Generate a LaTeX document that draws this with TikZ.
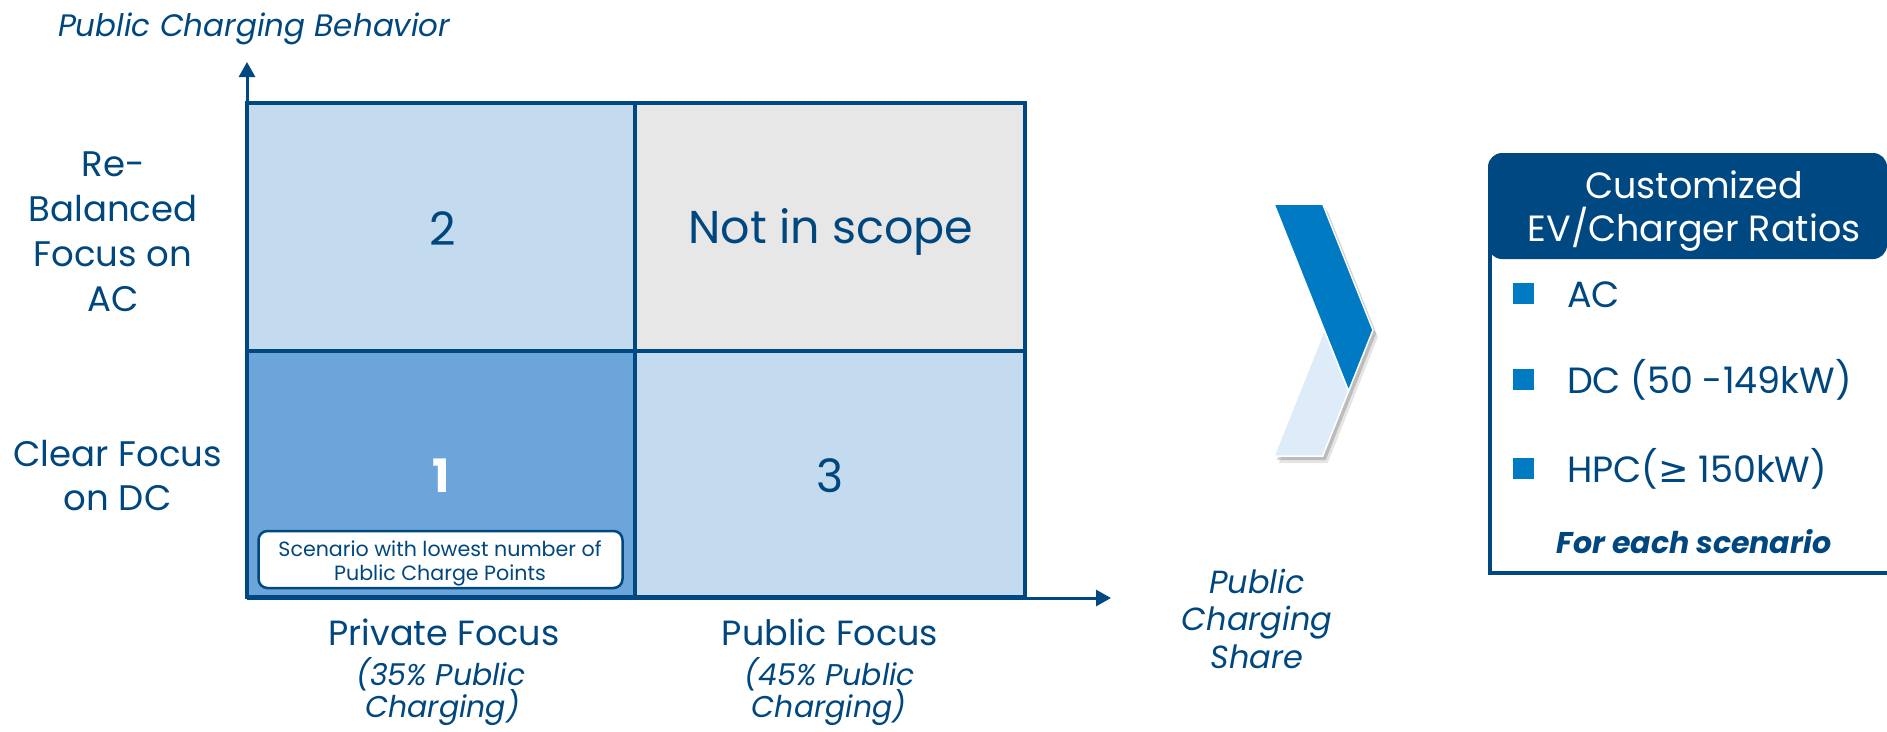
\documentclass[tikz,border=0pt]{standalone}
\usepackage{fontspec}
\setmainfont{Poppins}
\newfontfamily\symbolfont{DejaVu Sans}
\usetikzlibrary{arrows.meta}

\definecolor{navy}{RGB}{0,72,130}
\definecolor{txtblue}{RGB}{0,71,127}
\definecolor{cellpale}{RGB}{195,218,239}
\definecolor{cellmid}{RGB}{108,165,218}
\definecolor{cellgray}{RGB}{231,231,231}
\definecolor{chevdark}{RGB}{0,122,194}
\definecolor{chevlight}{RGB}{222,235,248}

\newcommand\fsz[2]{\fontsize{#1}{#2}\selectfont}

\begin{document}
\begin{tikzpicture}[x=1pt,y=-1pt,
  txt/.style={inner sep=0pt, outer sep=0pt, anchor=base, text=txtblue},
  cellbox/.style={draw=navy, line width=4.5pt, inner sep=0pt, outer sep=0pt},
  axisline/.style={draw=navy, line width=3pt, -{Triangle[length=15pt,width=16pt]}},
  bullet/.style={fill=chevdark, inner sep=0pt, minimum width=21pt, minimum height=21pt},
  rowlab/.style={txt, font=\fsz{35.5}{45}},
  collab/.style={txt, font=\fsz{35}{40}},
  colsub/.style={txt, font=\fsz{30}{35}\itshape},
  digit/.style={txt, font=\fsz{46}{50}},
  listitem/.style={txt, anchor=base west, font=\fsz{36.5}{44}},
]
\useasboundingbox (0,0) rectangle (1887,731);

% ---------- axes ----------
\coordinate (origin) at (247,598);
\coordinate (ytip) at (247,62);
\coordinate (xtip) at (1111,598);
\draw[axisline] (origin) -- (ytip);
\draw[axisline] (origin) -- (xtip);

% ---------- 2x2 scenario grid ----------
\node[cellbox, fill=cellpale, minimum width=388pt, minimum height=248pt] (c2) at (441,227) {};
\node[cellbox, fill=cellgray, minimum width=390pt, minimum height=248pt] (cx) at (830,227) {};
\node[cellbox, fill=cellmid,  minimum width=388pt, minimum height=246pt] (c1) at (441,474) {};
\node[cellbox, fill=cellpale, minimum width=390pt, minimum height=246pt] (c3) at (830,474) {};

\node[digit] (n2) at (443,245) {2};
\node[digit] (nx) at (831,243.3) {Not in scope};
\node[digit, text=white, font=\fsz{46}{50}\bfseries] (n1) at (441,492) {1};
\node[digit] (n3) at (830,492) {3};

% callout in scenario 1
\node[draw=navy, line width=2.5pt, fill=white, rounded corners=9pt,
      minimum width=364pt, minimum height=57pt, inner sep=0pt] (note) at (440.5,559.5) {};
\node[txt, font=\fsz{20.6}{24}] (noteA) at (440,556.7) {Scenario with lowest number of};
\node[txt, font=\fsz{20.6}{24}] (noteB) at (440,580.5) {Public Charge Points};

% ---------- axis titles ----------
\node[txt, anchor=base west, font=\fsz{31}{38}\itshape] (ytitle) at (58,36.7) {Public Charging Behavior};
\node[txt, font=\fsz{32}{38}\itshape] (xt1) at (1257,593) {Public};
\node[txt, font=\fsz{32}{38}\itshape] (xt2) at (1257,630) {Charging};
\node[txt, font=\fsz{32}{38}\itshape] (xt3) at (1257,668) {Share};

% ---------- row labels ----------
\node[rowlab] (ra1) at (113,176) {Re-};
\node[rowlab] (ra2) at (113,221.7) {Balanced};
\node[rowlab] (ra3) at (113,266.7) {Focus on};
\node[rowlab] (ra4) at (113,311.7) {AC};
\node[rowlab] (rb1) at (117.7,466) {Clear Focus};
\node[rowlab] (rb2) at (117.7,510) {on DC};

% ---------- column labels ----------
\node[collab] (ca1) at (444,645) {Private Focus};
\node[colsub] (ca2) at (441,685) {(35\% Public};
\node[colsub] (ca3) at (442.6,717) {Charging)};
\node[collab] (cb1) at (830,645) {Public Focus};
\node[colsub] (cb2) at (830,685) {(45\% Public};
\node[colsub] (cb3) at (829,717) {Charging)};

% ---------- chevron ----------
\coordinate (A) at (1274,204);
\coordinate (B) at (1322.7,204);
\coordinate (C) at (1373,330);
\coordinate (D) at (1322.7,456);
\coordinate (E) at (1274,456);
\coordinate (N) at (1324.3,330);
\coordinate (P) at (1348.6,391);
\fill[black, opacity=0.10] ([shift={(5,7)}]A) -- ([shift={(5,7)}]B) -- ([shift={(5,7)}]C) -- ([shift={(5,7)}]D) -- ([shift={(5,7)}]E) -- ([shift={(5,7)}]N) -- cycle;
\fill[black, opacity=0.18] ([shift={(3,4)}]A) -- ([shift={(3,4)}]B) -- ([shift={(3,4)}]C) -- ([shift={(3,4)}]D) -- ([shift={(3,4)}]E) -- ([shift={(3,4)}]N) -- cycle;
\filldraw[fill=chevlight, draw=white, line width=1.5pt, line join=miter] (N) -- (P) -- (D) -- (E) -- cycle;
\filldraw[fill=chevdark, draw=white, line width=1.5pt, line join=miter] (A) -- (B) -- (C) -- (P) -- cycle;

% ---------- result panel ----------
\node[draw=navy, line width=4pt, fill=white, minimum width=400pt, minimum height=373pt, inner sep=0pt] (panel) at (1690,386.5) {};
\node[fill=navy, rounded corners=14pt, minimum width=399pt, minimum height=106pt, inner sep=0pt] (head) at (1687.5,206) {};
\node[txt, text=white, font=\fsz{36.5}{44}] (h1) at (1694,198) {Customized};
\node[txt, text=white, font=\fsz{36.5}{44}] (h2) at (1694,241.7) {EV/Charger Ratios};

\node[bullet] (b1) at (1523,293) {};
\node[bullet] (b2) at (1523,379.5) {};
\node[bullet] (b3) at (1523,468) {};
\node[listitem] (l1) at (1567,307) {AC};
\node[listitem] (l2) at (1567,393) {DC (50 -149kW)};
\node[listitem] (l3) at (1567,482) {HPC({\symbolfont ≥} 150kW)};

\node[txt, font=\fsz{30}{36}\bfseries\itshape] (each) at (1694,553) {For each scenario};
\end{tikzpicture}
\end{document}
